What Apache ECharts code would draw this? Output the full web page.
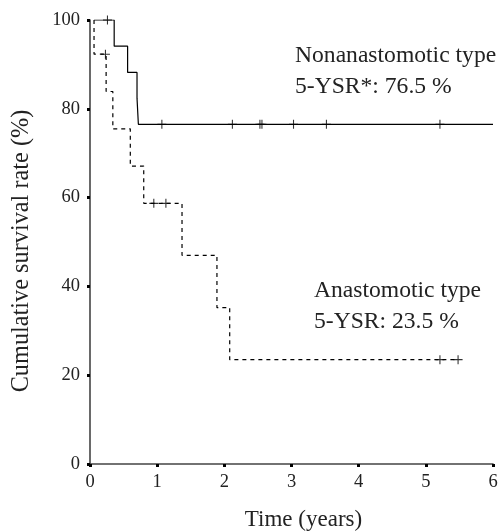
<!DOCTYPE html>
<html>
<head>
<meta charset="utf-8">
<script src="https://cdn.jsdelivr.net/npm/echarts@6/dist/echarts.min.js"></script>
<style>
  html, body { margin: 0; padding: 0; background: #fff; }
  #chart { width: 500px; height: 532px; }
</style>
</head>
<body>
<div id="chart"></div>
<script>
// Kaplan-Meier survival curves by type (time in years, survival in %)
var xTicks = [0, 1, 2, 3, 4, 5, 6];
var yTicks = [0, 20, 40, 60, 80, 100];

// Nonanastomotic type: steps [time, survival after event]
var nonanaSteps = [[0.06, 100], [0.36, 94.1], [0.56, 88.2], [0.70, 82.4], [0.72, 76.5], [6.0, 76.5]];
// censored observations
var nonanaCensored = [[0.26, 100], [1.07, 76.5], [2.12, 76.5], [2.53, 76.5], [2.56, 76.5], [3.03, 76.5], [3.52, 76.5], [5.21, 76.5]];

// Anastomotic type
var anaSteps = [[0.06, 100], [0.06, 92.3], [0.24, 83.9], [0.34, 75.5], [0.60, 67.1], [0.80, 58.7], [1.37, 47.0], [1.89, 35.2], [2.08, 23.5], [5.48, 23.5]];
var anaCensored = [[0.23, 92.3], [0.95, 58.7], [1.13, 58.7], [5.21, 23.5], [5.48, 23.5]];

var nonanaLabel = ['Nonanastomotic type', '5-YSR*: 76.5 %'];
var anaLabel = ['Anastomotic type', '5-YSR: 23.5 %'];

var serif = '"Liberation Serif", "DejaVu Serif", serif';
var plus = 'path://M0,4.4h10v1.2h-10z M4.4,0h1.2v10h-1.2z';

var chart = echarts.init(document.getElementById('chart'), null, { renderer: 'canvas' });

var axisCommon = {
  axisLine: { show: true, lineStyle: { color: '#444', width: 1.6 } },
  axisTick: { show: true, inside: false, length: 3, lineStyle: { color: '#000', width: 3 } },
  splitLine: { show: false },
  axisLabel: { color: '#222', fontFamily: serif, fontSize: 18.5 },
  nameTextStyle: { color: '#222', fontFamily: serif, fontSize: 23 }
};

chart.setOption({
  animation: false,
  backgroundColor: '#fff',
  grid: { left: 90, right: 7, top: 20, bottom: 68, containLabel: false, outerBoundsMode: 'none' },
  xAxis: echarts.util.merge({
    type: 'value', min: 0, max: 6, interval: 1,
    name: 'Time (years)', nameLocation: 'middle', nameGap: 44,
    nameTextStyle: { padding: [0, 0, 0, 24] },
    axisLabel: { margin: 9, formatter: function (v) { return xTicks.indexOf(v) >= 0 ? String(v) : ''; } }
  }, axisCommon, false),
  yAxis: echarts.util.merge({
    type: 'value', min: 0, max: 100, interval: 20,
    name: 'Cumulative survival rate (%)', nameLocation: 'middle', nameGap: 56,
    nameTextStyle: { fontSize: 24.3, padding: [0, 18, 0, 0] },
    axisLabel: { margin: 10, formatter: function (v) { return yTicks.indexOf(v) >= 0 ? String(v) : ''; } }
  }, axisCommon, false),
  series: [
    {
      type: 'line', data: nonanaSteps, step: 'end', showSymbol: false, symbol: 'none',
      lineStyle: { color: '#000', width: 1.2, type: 'solid' }, z: 3
    },
    {
      type: 'scatter', data: nonanaCensored, symbol: plus, symbolSize: 9,
      itemStyle: { color: '#000' }, z: 4
    },
    {
      type: 'line', data: anaSteps, step: 'end', showSymbol: false, symbol: 'none',
      lineStyle: { color: '#000', width: 1.2, type: [4, 4] }, z: 3
    },
    {
      type: 'scatter', data: anaCensored, symbol: plus, symbolSize: 9,
      itemStyle: { color: '#000' }, z: 4
    }
  ],
  graphic: [
    {
      type: 'text', left: 295, top: 40,
      style: { text: nonanaLabel.join('\n'), font: '23.6px ' + serif, fill: '#222', lineHeight: 31 }
    },
    {
      type: 'text', left: 314, top: 275,
      style: { text: anaLabel.join('\n'), font: '23.6px ' + serif, fill: '#222', lineHeight: 31 }
    }
  ]
});
</script>
</body>
</html>
